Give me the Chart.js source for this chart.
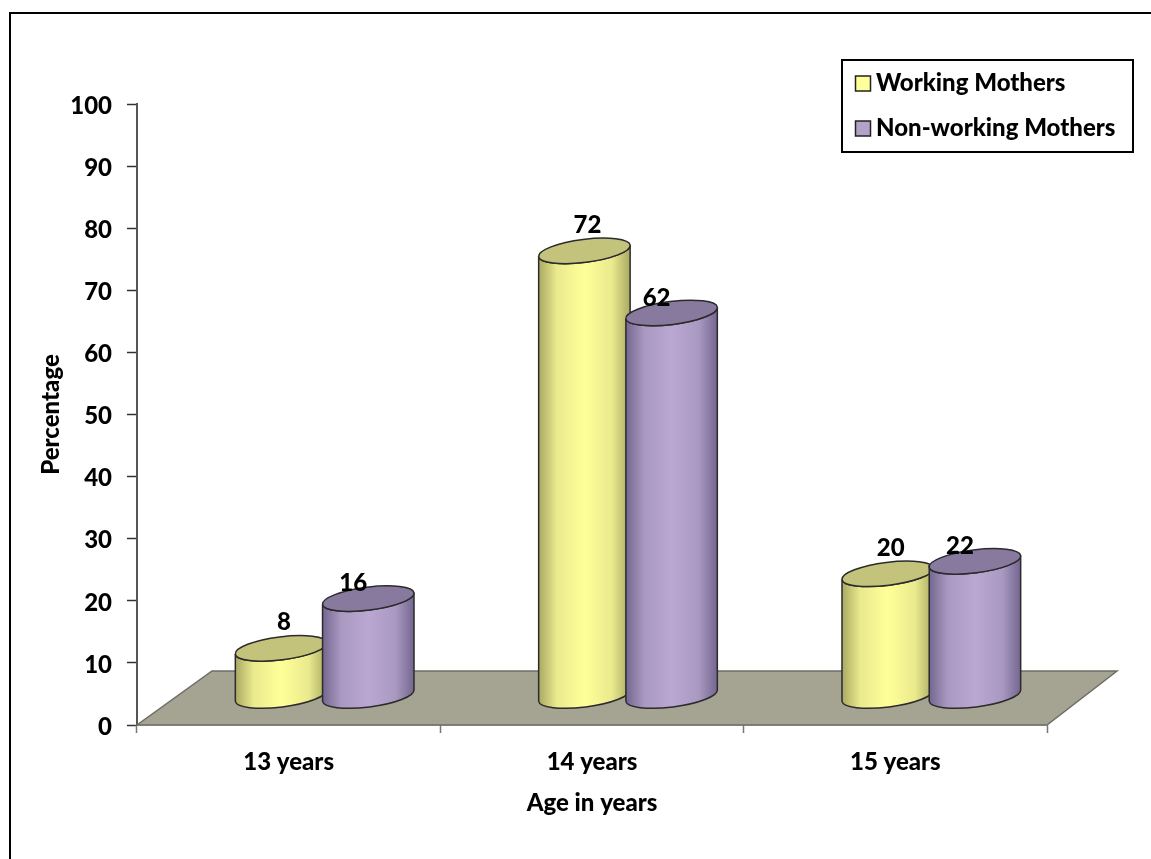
<!DOCTYPE html>
<html>
<head>
<meta charset="utf-8">
<title>Age in years</title>
<script src="https://cdn.jsdelivr.net/npm/chart.js@4/dist/chart.umd.js"></script>
<style>
    html, body { margin: 0; padding: 0; background: #fff; }
    canvas { display: block; }
</style>
</head>
<body>
<canvas id="ageChart" width="1151" height="859"></canvas>
<script>
var ageGroups = ['13 years', '14 years', '15 years'];
var workingMothers = [8, 72, 20];
var nonWorkingMothers = [16, 62, 22];

var FONT = '900 24px Lato';
var fontSpec = { family: 'Lato', size: 24, weight: '900' };

// colours for each cylinder: side edge, side centre, top cap
var palette = [
    { edge: '#a9a963', mid: '#eaea8e', light: '#ffff99', cap: '#c3c37c' },
    { edge: '#746690', mid: '#a999c0', light: '#baa7d3', cap: '#88799e' }
];

function drawCylinder(ctx, bar, colors) {
    var cx = bar.x + 36;
    var topY = bar.y - 27;
    var baseY = bar.base - 29;
    var rx = bar.width / 2;
    var ry = 11.5;
    var tilt = -0.125;
    var sx = rx * Math.cos(tilt);
    var sy = rx * Math.sin(tilt);

    var grad = ctx.createLinearGradient(cx - sx, 0, cx + sx, 0);
    grad.addColorStop(0, colors.edge);
    grad.addColorStop(0.2, colors.mid);
    grad.addColorStop(0.5, colors.light);
    grad.addColorStop(0.8, colors.mid);
    grad.addColorStop(1, colors.edge);

    // side of the cylinder, running round the lower half of the base
    ctx.beginPath();
    ctx.moveTo(cx - sx, topY - sy);
    ctx.lineTo(cx - sx, baseY - sy);
    ctx.ellipse(cx, baseY, rx, ry, tilt, Math.PI, 0, true);
    ctx.lineTo(cx + sx, topY + sy);
    ctx.ellipse(cx, topY, rx, ry, tilt, 0, Math.PI, false);
    ctx.closePath();
    ctx.fillStyle = grad;
    ctx.fill();
    ctx.lineWidth = 1.5;
    ctx.strokeStyle = '#2b2b2b';
    ctx.stroke();

    // top cap
    ctx.beginPath();
    ctx.ellipse(cx, topY, rx, ry, tilt, 0, Math.PI * 2);
    ctx.fillStyle = colors.cap;
    ctx.fill();
    ctx.stroke();
}

var cylinderPlugin = {
    id: 'cylinders',
    beforeDraw: function (chart) {
        var ctx = chart.ctx;
        ctx.save();
        ctx.fillStyle = '#ffffff';
        ctx.fillRect(0, 0, chart.width, chart.height);
        // page frame, open on the right and at the bottom
        ctx.strokeStyle = '#000000';
        ctx.lineWidth = 2;
        ctx.beginPath();
        ctx.moveTo(10, chart.height);
        ctx.lineTo(10, 13);
        ctx.lineTo(chart.width, 13);
        ctx.stroke();
        ctx.restore();
    },
    beforeDatasetsDraw: function (chart) {
        var ctx = chart.ctx;
        var area = chart.chartArea;

        // floor
        ctx.save();
        ctx.beginPath();
        ctx.moveTo(area.left, area.bottom);
        ctx.lineTo(area.right, area.bottom);
        ctx.lineTo(area.right + 70, area.bottom - 54);
        ctx.lineTo(area.left + 75, area.bottom - 54);
        ctx.closePath();
        ctx.fillStyle = '#a5a391';
        ctx.fill();
        ctx.lineWidth = 1.5;
        ctx.strokeStyle = '#6e6e66';
        ctx.stroke();

        // cylinders, first series underneath
        chart.data.datasets.forEach(function (dataset, i) {
            chart.getDatasetMeta(i).data.forEach(function (bar) {
                drawCylinder(ctx, bar, palette[i]);
            });
        });

        // value labels
        ctx.font = FONT;
        ctx.fillStyle = '#000000';
        ctx.textAlign = 'center';
        ctx.textBaseline = 'middle';
        chart.data.datasets.forEach(function (dataset, i) {
            chart.getDatasetMeta(i).data.forEach(function (bar, j) {
                var labelX = bar.x + 36 + (i === 0 ? 3 : -15);
                var labelY = bar.y - 27 + (i === 0 ? -26 : -15);
                ctx.fillText(String(dataset.data[j]), labelX, labelY);
            });
        });
        ctx.restore();

        // cylinders replace the flat bars
        return false;
    },
    afterDraw: function (chart) {
        var ctx = chart.ctx;
        ctx.save();
        ctx.lineWidth = 2;
        ctx.strokeStyle = '#000000';
        ctx.strokeRect(842, 60, 291, 92);

        ctx.font = FONT;
        ctx.textAlign = 'left';
        ctx.textBaseline = 'middle';
        chart.data.datasets.forEach(function (dataset, i) {
            var rowY = 83 + i * 45;
            ctx.fillStyle = dataset.backgroundColor;
            ctx.fillRect(855.5, rowY - 7, 15, 15);
            ctx.lineWidth = 1.5;
            ctx.strokeStyle = '#222222';
            ctx.strokeRect(855.5, rowY - 7, 15, 15);
            ctx.fillStyle = '#000000';
            ctx.fillText(dataset.label, 876, rowY);
        });
        ctx.restore();
    }
};

new Chart(document.getElementById('ageChart'), {
    type: 'bar',
    data: {
        labels: ageGroups,
        datasets: [
            { label: 'Working Mothers', data: workingMothers, backgroundColor: '#ffff99' },
            { label: 'Non-working Mothers', data: nonWorkingMothers, backgroundColor: '#b3a2c7' }
        ]
    },
    options: {
        responsive: false,
        animation: false,
        categoryPercentage: 0.575,
        barPercentage: 1.057,
        layout: { padding: { left: 37, right: 104, top: 104, bottom: 41 } },
        plugins: {
            legend: { display: false },
            tooltip: { enabled: false }
        },
        scales: {
            x: {
                afterFit: function (scale) {
                    scale.height = 93;
                    scale.paddingLeft = 0;
                    scale.paddingRight = 0;
                },
                grid: { drawOnChartArea: false, tickLength: 8, tickColor: '#777777', tickWidth: 1.5 },
                border: { color: '#777777', width: 1.5 },
                ticks: { color: '#000000', font: fontSpec, padding: 15, maxRotation: 0 },
                title: { display: true, text: 'Age in years', color: '#000000', font: fontSpec, padding: 0 }
            },
            y: {
                min: 0,
                max: 100,
                afterFit: function (scale) {
                    scale.width = 100;
                    scale.paddingTop = 0;
                    scale.paddingBottom = 0;
                },
                grid: { drawOnChartArea: false, tickLength: 10, tickColor: '#333333', tickWidth: 1.5 },
                border: { color: '#555555', width: 2 },
                ticks: { stepSize: 10, color: '#000000', font: fontSpec, padding: 15, labelOffset: 2 },
                title: { display: true, text: 'Percentage', color: '#000000', font: fontSpec, padding: 0 }
            }
        }
    },
    plugins: [cylinderPlugin]
});
</script>
</body>
</html>
